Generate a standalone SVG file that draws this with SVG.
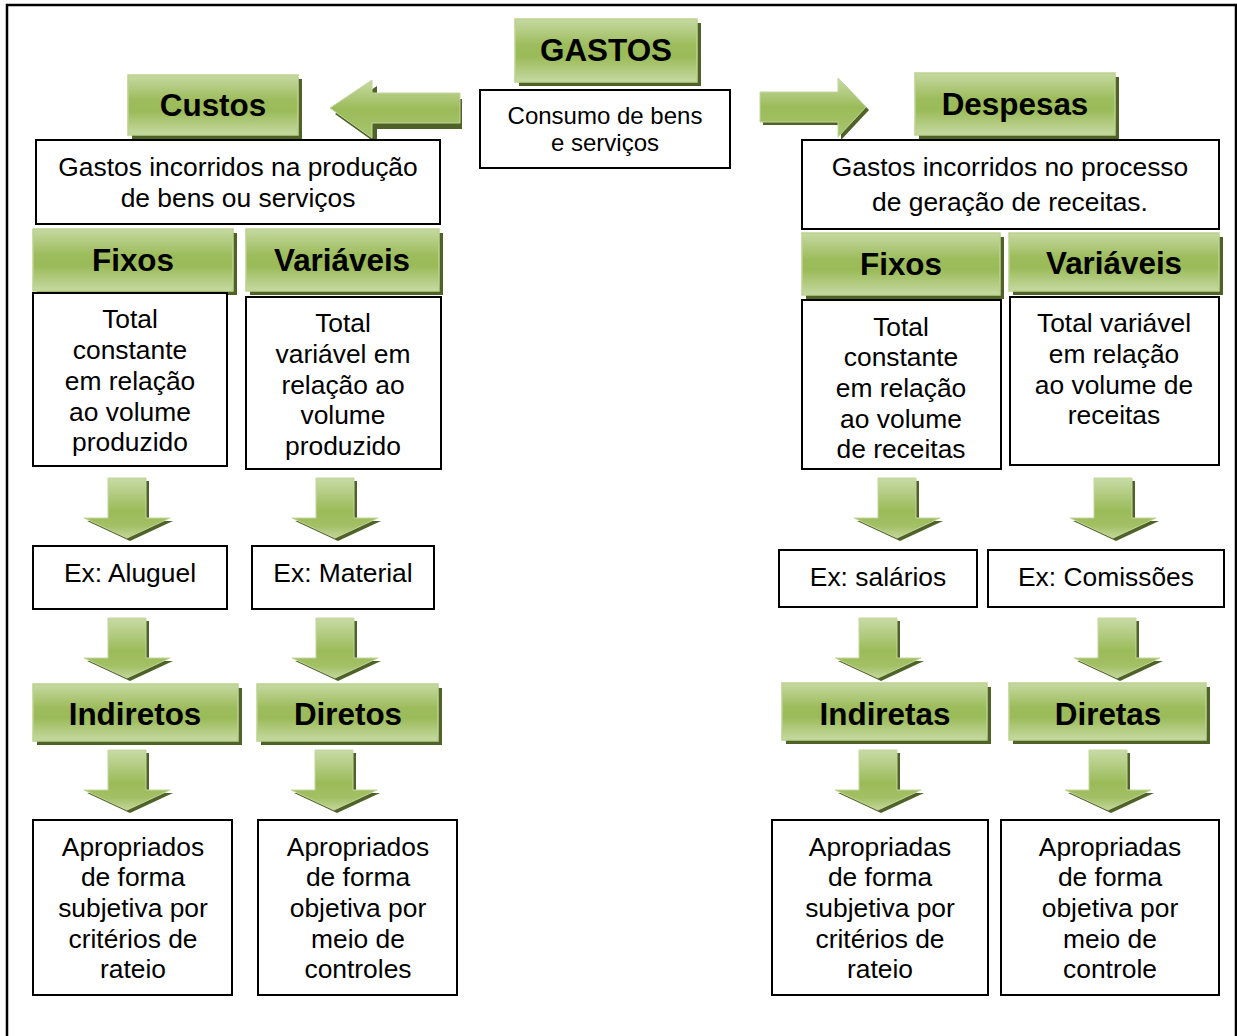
<svg xmlns="http://www.w3.org/2000/svg" xmlns:xlink="http://www.w3.org/1999/xlink" width="1237" height="1036" viewBox="0 0 1237 1036">
  <defs>
    <linearGradient id="gHead" x1="0" y1="0" x2="0" y2="1">
      <stop offset="0" stop-color="#c6d9a2"/>
      <stop offset="0.42" stop-color="#9dbc5c"/>
      <stop offset="0.6" stop-color="#9bbb59"/>
      <stop offset="1" stop-color="#c6d9a2"/>
    </linearGradient>
    <linearGradient id="gArrowV" x1="0" y1="0" x2="0" y2="1">
      <stop offset="0" stop-color="#c8dba6"/>
      <stop offset="0.55" stop-color="#9bbb59"/>
      <stop offset="0.8" stop-color="#a3c065"/>
      <stop offset="1" stop-color="#c3d69b"/>
    </linearGradient>
    <linearGradient id="gArrowH" x1="0" y1="0" x2="0" y2="1">
      <stop offset="0" stop-color="#c8dba6"/>
      <stop offset="0.5" stop-color="#9bbb59"/>
      <stop offset="1" stop-color="#a9c46e"/>
    </linearGradient>
    <!-- down arrow, centred on x=0, top at y=0 -->
    <path id="down" d="M-19,0 H19 V40 H43 L0,60 L-43,40 H-19 Z"/>
  </defs>
  <style>
    .frame { fill: #ffffff; stroke: #000000; stroke-width: 2.5; }
    .box { fill: #ffffff; stroke: #000000; stroke-width: 2; }
    .hd { fill: url(#gHead); stroke: #bcd28f; stroke-width: 1.5; }
    .sh { fill: #4f6228; }
    .ar { fill: url(#gArrowV); stroke: #c3d69b; stroke-width: 1; }
    .arh { fill: url(#gArrowH); stroke: #c3d69b; stroke-width: 1; }
    .t { font-family: "Liberation Sans", Arial, sans-serif; font-size: 26.4px; fill: #000000; text-anchor: middle; }
    .ts { font-family: "Liberation Sans", Arial, sans-serif; font-size: 24px; fill: #000000; text-anchor: middle; }
    .b { font-family: "Liberation Sans", Arial, sans-serif; font-size: 31.4px; font-weight: bold; fill: #000000; text-anchor: middle; }
  </style>

  <rect class="frame" x="7" y="5" width="1229" height="1045"/>

  <!-- connectors: block arrows -->
  <g id="connectors">
    <!-- left arrow towards Custos -->
    <path class="sh" d="M460,96 V126 H375 V141 L333,111 L375,83 V96 Z" transform="translate(2,3)"/>
    <path class="arh" d="M460,93 V123 H372 V138 L330,108 L372,80 V93 Z"/>
    <!-- right arrow towards Despesas -->
    <path class="sh" d="M760,92 H838 V78 L866,107 L838,137 V122 H760 Z" transform="translate(3,3)"/>
    <path class="arh" d="M760,92 H838 V78 L866,107 L838,137 V122 H760 Z"/>

    <!-- row 1 -->
    <use href="#down" class="sh" x="130" y="481"/>
    <use href="#down" class="ar" x="127" y="478"/>
    <use href="#down" class="sh" x="338" y="481"/>
    <use href="#down" class="ar" x="335" y="478"/>
    <use href="#down" class="sh" x="900" y="481"/>
    <use href="#down" class="ar" x="897" y="478"/>
    <use href="#down" class="sh" x="1116" y="481"/>
    <use href="#down" class="ar" x="1113" y="478"/>

    <!-- row 2 -->
    <use href="#down" class="sh" x="130" y="621"/>
    <use href="#down" class="ar" x="127" y="618"/>
    <use href="#down" class="sh" x="338" y="621"/>
    <use href="#down" class="ar" x="335" y="618"/>
    <use href="#down" class="sh" x="881" y="621"/>
    <use href="#down" class="ar" x="878" y="618"/>
    <use href="#down" class="sh" x="1120" y="621"/>
    <use href="#down" class="ar" x="1117" y="618"/>

    <!-- row 3 -->
    <use href="#down" class="sh" x="130" y="753"/>
    <use href="#down" class="ar" x="127" y="750"/>
    <use href="#down" class="sh" x="337" y="753"/>
    <use href="#down" class="ar" x="334" y="750"/>
    <use href="#down" class="sh" x="881" y="753"/>
    <use href="#down" class="ar" x="878" y="750"/>
    <use href="#down" class="sh" x="1111" y="753"/>
    <use href="#down" class="ar" x="1108" y="750"/>
  </g>

  <!-- top -->
  <g id="gastos">
    <rect class="sh" x="519" y="23" width="182" height="63"/>
    <rect class="hd" x="515" y="19" width="182" height="63"/>
    <text class="b" x="606" y="61">GASTOS</text>
  </g>
  <g id="consumo">
    <rect class="box" x="480" y="90" width="250" height="78"/>
    <text class="ts" x="605" y="123.5">Consumo de bens</text>
    <text class="ts" x="605" y="150.5">e serviços</text>
  </g>

  <!-- Custos branch -->
  <g id="custos">
    <rect class="sh" x="132" y="79" width="170" height="60"/>
    <rect class="hd" x="128" y="75" width="170" height="60"/>
    <text class="b" x="213" y="116">Custos</text>
  </g>
  <g id="custos-def">
    <rect class="box" x="36" y="140" width="404" height="84"/>
    <text class="t" x="238" y="176">Gastos incorridos na produção</text>
    <text class="t" x="238" y="207">de bens ou serviços</text>
  </g>
  <g id="custos-fixos">
    <rect class="sh" x="37" y="233" width="200" height="62"/>
    <rect class="hd" x="33" y="229" width="200" height="62"/>
    <text class="b" x="133" y="271">Fixos</text>
  </g>
  <g id="custos-variaveis">
    <rect class="sh" x="250" y="233" width="193" height="62"/>
    <rect class="hd" x="246" y="229" width="193" height="62"/>
    <text class="b" x="342" y="271">Variáveis</text>
  </g>
  <g id="custos-fixos-def">
    <rect class="box" x="33" y="293" width="194" height="173"/>
    <text class="t" x="130" y="328">Total</text>
    <text class="t" x="130" y="359">constante</text>
    <text class="t" x="130" y="390">em relação</text>
    <text class="t" x="130" y="421">ao volume</text>
    <text class="t" x="130" y="451">produzido</text>
  </g>
  <g id="custos-variaveis-def">
    <rect class="box" x="246" y="297" width="195" height="172"/>
    <text class="t" x="343" y="332">Total</text>
    <text class="t" x="343" y="363">variável em</text>
    <text class="t" x="343" y="394">relação ao</text>
    <text class="t" x="343" y="424">volume</text>
    <text class="t" x="343" y="455">produzido</text>
  </g>
  <g id="ex-aluguel">
    <rect class="box" x="33" y="546" width="194" height="63"/>
    <text class="t" x="130" y="582">Ex: Aluguel</text>
  </g>
  <g id="ex-material">
    <rect class="box" x="252" y="546" width="182" height="63"/>
    <text class="t" x="343" y="582">Ex: Material</text>
  </g>
  <g id="custos-indiretos">
    <rect class="sh" x="37" y="688" width="205" height="57"/>
    <rect class="hd" x="33" y="684" width="205" height="57"/>
    <text class="b" x="135" y="725">Indiretos</text>
  </g>
  <g id="custos-diretos">
    <rect class="sh" x="261" y="688" width="181" height="57"/>
    <rect class="hd" x="257" y="684" width="181" height="57"/>
    <text class="b" x="348" y="725">Diretos</text>
  </g>
  <g id="custos-indiretos-def">
    <rect class="box" x="33" y="820" width="199" height="175"/>
    <text class="t" x="133" y="856">Apropriados</text>
    <text class="t" x="133" y="886">de forma</text>
    <text class="t" x="133" y="917">subjetiva por</text>
    <text class="t" x="133" y="948">critérios de</text>
    <text class="t" x="133" y="978">rateio</text>
  </g>
  <g id="custos-diretos-def">
    <rect class="box" x="258" y="820" width="199" height="175"/>
    <text class="t" x="358" y="856">Apropriados</text>
    <text class="t" x="358" y="886">de forma</text>
    <text class="t" x="358" y="917">objetiva por</text>
    <text class="t" x="358" y="948">meio de</text>
    <text class="t" x="358" y="978">controles</text>
  </g>

  <!-- Despesas branch -->
  <g id="despesas">
    <rect class="sh" x="919" y="77" width="200" height="62"/>
    <rect class="hd" x="915" y="73" width="200" height="62"/>
    <text class="b" x="1015" y="115">Despesas</text>
  </g>
  <g id="despesas-def">
    <rect class="box" x="802" y="140" width="417" height="89"/>
    <text class="t" x="1010" y="176">Gastos incorridos no processo</text>
    <text class="t" x="1010" y="211">de geração de receitas.</text>
  </g>
  <g id="despesas-fixas">
    <rect class="sh" x="806" y="237" width="198" height="62"/>
    <rect class="hd" x="802" y="233" width="198" height="62"/>
    <text class="b" x="901" y="275">Fixos</text>
  </g>
  <g id="despesas-variaveis">
    <rect class="sh" x="1013" y="237" width="210" height="58"/>
    <rect class="hd" x="1009" y="233" width="210" height="58"/>
    <text class="b" x="1114" y="274">Variáveis</text>
  </g>
  <g id="despesas-fixas-def">
    <rect class="box" x="802" y="300" width="199" height="169"/>
    <text class="t" x="901" y="336">Total</text>
    <text class="t" x="901" y="366">constante</text>
    <text class="t" x="901" y="397">em relação</text>
    <text class="t" x="901" y="428">ao volume</text>
    <text class="t" x="901" y="458">de receitas</text>
  </g>
  <g id="despesas-variaveis-def">
    <rect class="box" x="1010" y="297" width="209" height="168"/>
    <text class="t" x="1114" y="332">Total variável</text>
    <text class="t" x="1114" y="363">em relação</text>
    <text class="t" x="1114" y="394">ao volume de</text>
    <text class="t" x="1114" y="424">receitas</text>
  </g>
  <g id="ex-salarios">
    <rect class="box" x="779" y="550" width="198" height="57"/>
    <text class="t" x="878" y="586">Ex: salários</text>
  </g>
  <g id="ex-comissoes">
    <rect class="box" x="988" y="550" width="236" height="57"/>
    <text class="t" x="1106" y="586">Ex: Comissões</text>
  </g>
  <g id="despesas-indiretas">
    <rect class="sh" x="786" y="687" width="205" height="57"/>
    <rect class="hd" x="782" y="683" width="205" height="57"/>
    <text class="b" x="885" y="725">Indiretas</text>
  </g>
  <g id="despesas-diretas">
    <rect class="sh" x="1013" y="687" width="197" height="57"/>
    <rect class="hd" x="1009" y="683" width="197" height="57"/>
    <text class="b" x="1108" y="725">Diretas</text>
  </g>
  <g id="despesas-indiretas-def">
    <rect class="box" x="772" y="820" width="216" height="175"/>
    <text class="t" x="880" y="856">Apropriadas</text>
    <text class="t" x="880" y="886">de forma</text>
    <text class="t" x="880" y="917">subjetiva por</text>
    <text class="t" x="880" y="948">critérios de</text>
    <text class="t" x="880" y="978">rateio</text>
  </g>
  <g id="despesas-diretas-def">
    <rect class="box" x="1001" y="820" width="218" height="175"/>
    <text class="t" x="1110" y="856">Apropriadas</text>
    <text class="t" x="1110" y="886">de forma</text>
    <text class="t" x="1110" y="917">objetiva por</text>
    <text class="t" x="1110" y="948">meio de</text>
    <text class="t" x="1110" y="978">controle</text>
  </g>
</svg>
